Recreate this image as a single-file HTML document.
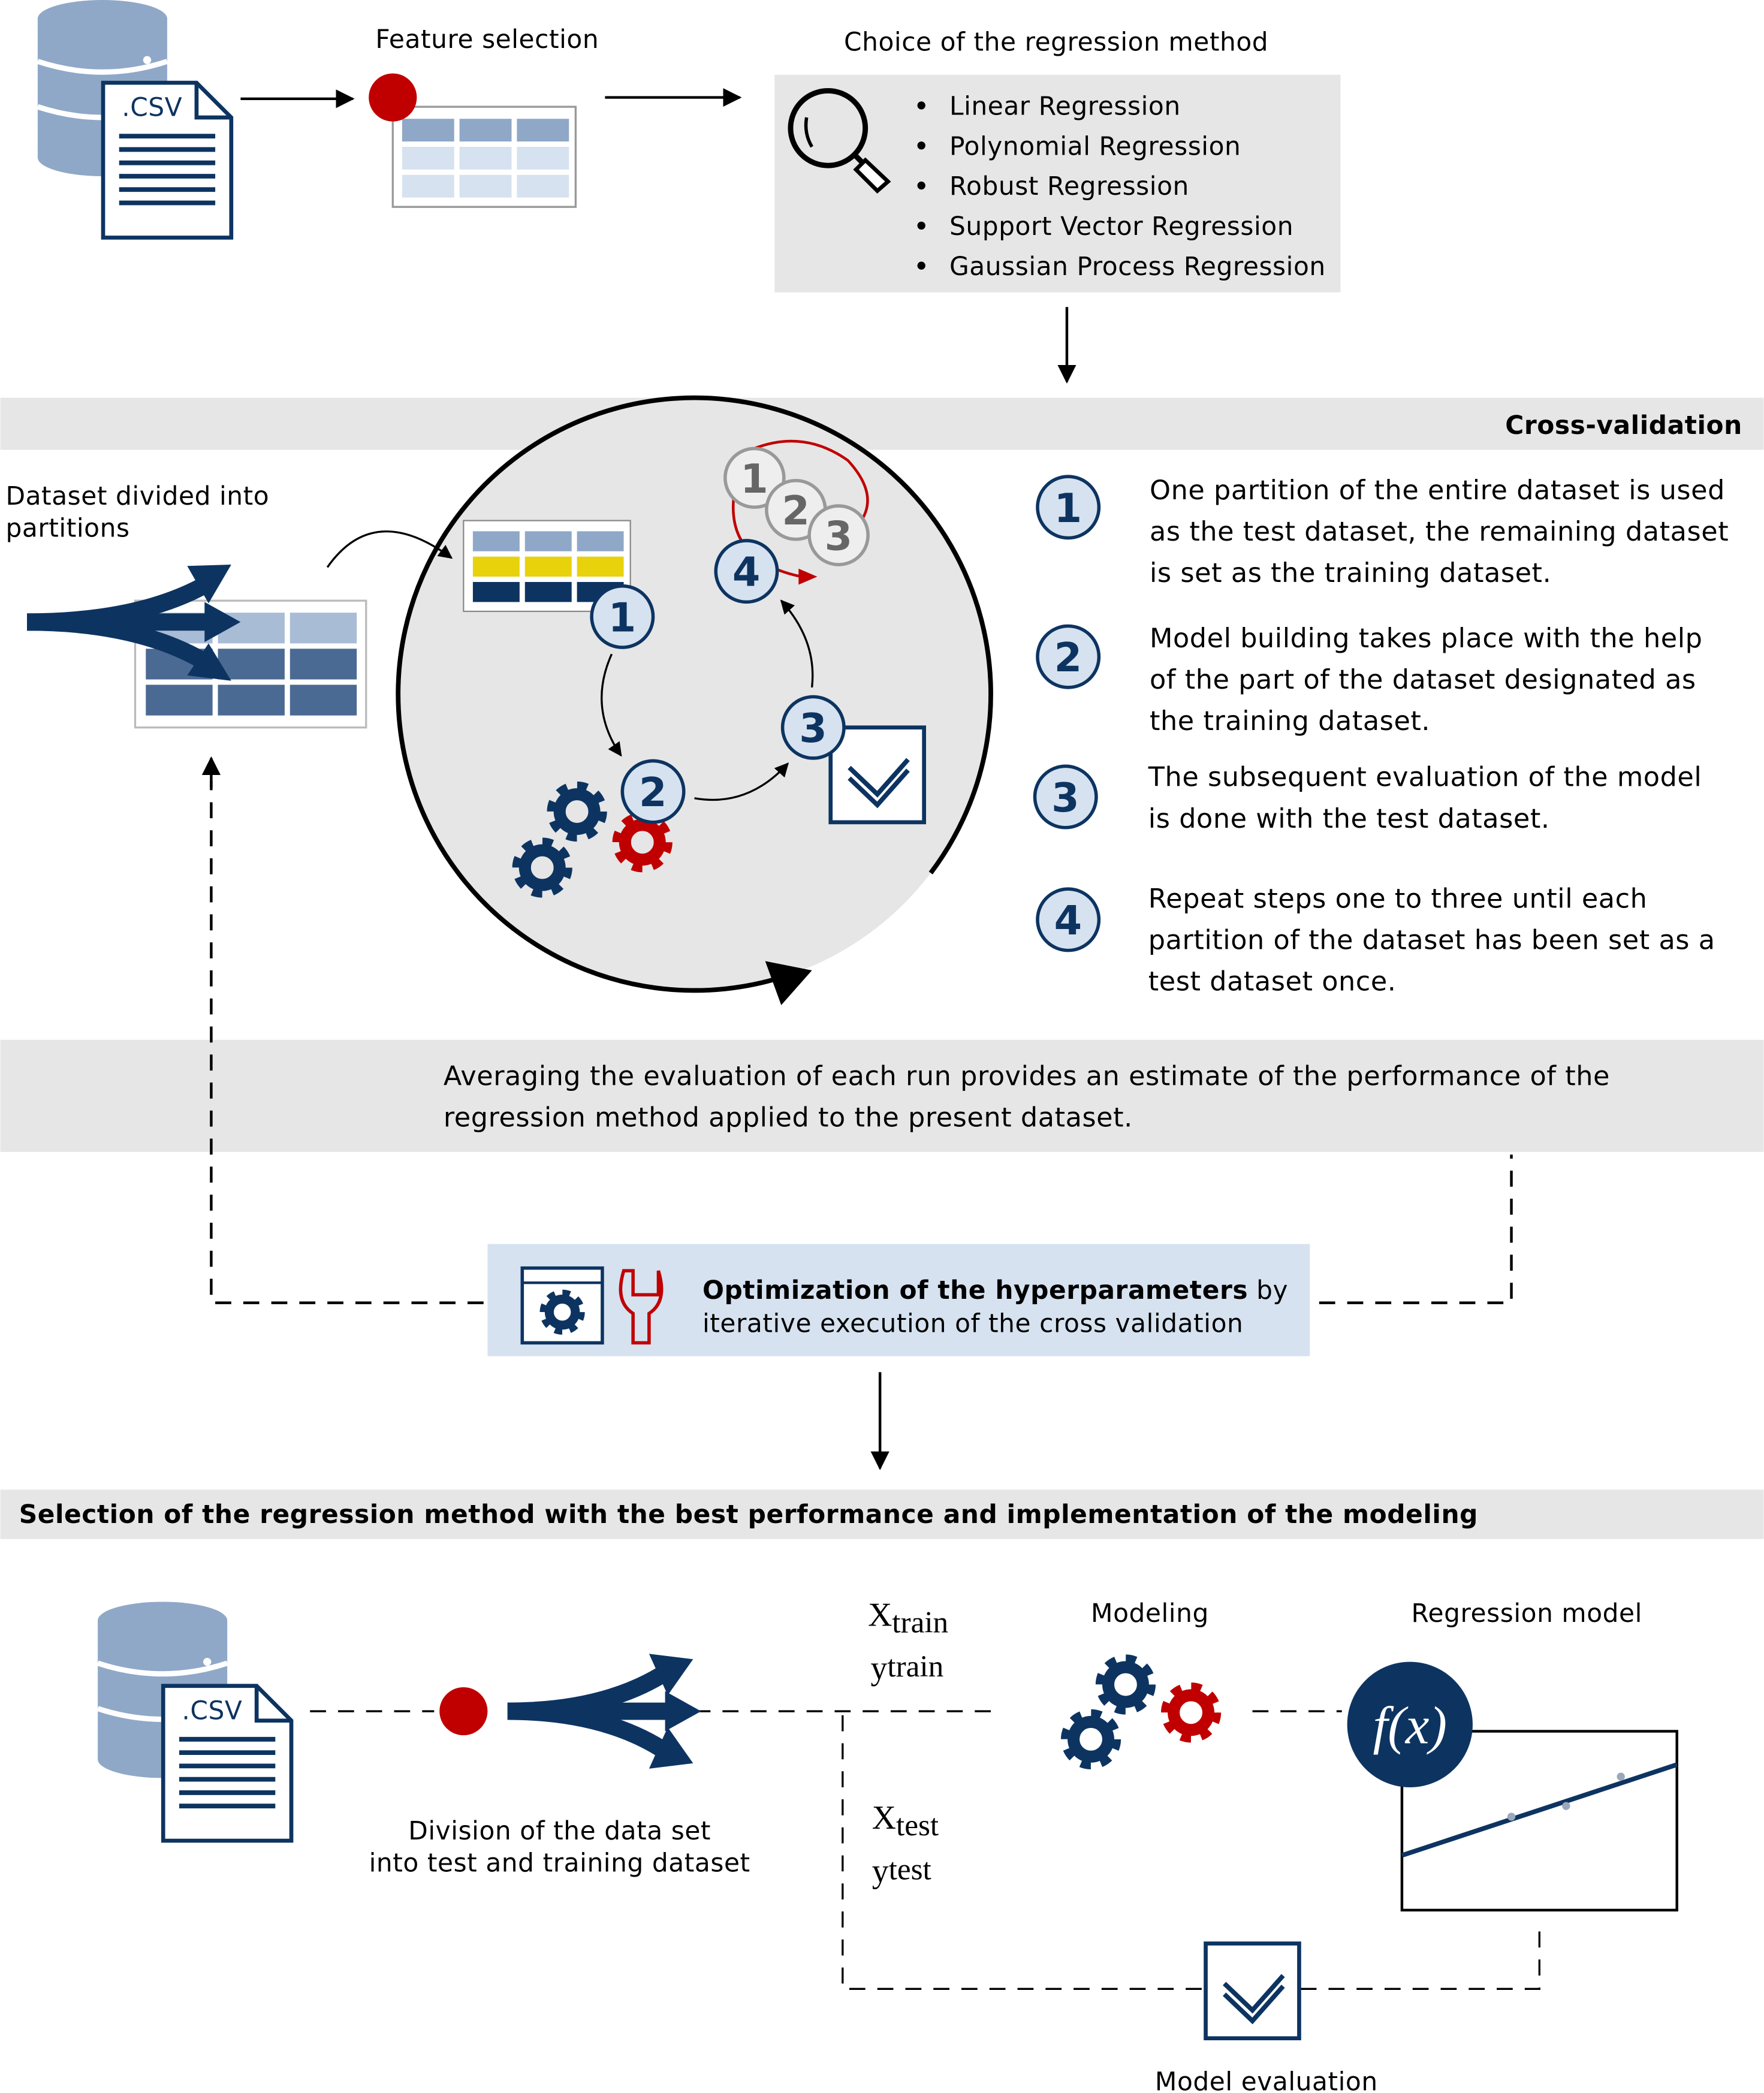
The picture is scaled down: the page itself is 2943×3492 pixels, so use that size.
<!DOCTYPE html>
<html><head><meta charset="utf-8">
<style>
html,body{margin:0;padding:0;background:#fff;}
svg{display:block;}
text{font-family:"DejaVu Sans","Liberation Sans",sans-serif;fill:#000;letter-spacing:0.25px;}
.s{font-family:"Liberation Serif",serif;letter-spacing:0;}
</style></head><body>
<svg width="2943" height="3492" viewBox="0 0 1321 1568" xmlns="http://www.w3.org/2000/svg">
<defs>
<marker id="ah" viewBox="0 0 10 10" refX="9" refY="5" markerWidth="7" markerHeight="7" orient="auto-start-reverse"><path d="M0,0 L10,5 L0,10 z" fill="#000"/></marker>
<g id="gear">
<circle r="13" fill="none" stroke-width="9"/>
<circle r="19" fill="none" stroke-width="7" stroke-dasharray="7.46 7.46"/>
</g>
<g id="db">
<rect x="0" y="14" width="97" height="104" fill="#8fa8c8"/>
<ellipse cx="48.5" cy="14" rx="48.5" ry="14" fill="#8fa8c8"/>
<ellipse cx="48.5" cy="118" rx="48.5" ry="14" fill="#8fa8c8"/>
<path d="M0,46 Q48.5,62 97,46 M0,80 Q48.5,96 97,80" stroke="#fff" stroke-width="4" fill="none"/>
<circle cx="82" cy="45" r="3" fill="#fff"/><circle cx="82" cy="80" r="3" fill="#fff"/>
</g>
<g id="csv">
<path d="M0,0 H70 L96,26 V116 H0 Z" fill="#fff" stroke="#0d3461" stroke-width="3"/>
<path d="M70,0 V26 H96" fill="none" stroke="#0d3461" stroke-width="3"/>
<text x="14" y="25" font-size="19" style="fill:#0d3461">.CSV</text>
<path d="M12,40H84M12,50H84M12,60H84M12,70H84M12,80H84M12,90H84" stroke="#0d3461" stroke-width="3.5"/>
</g>
<g id="chk">
<rect x="0" y="0" width="70" height="71" fill="#fff" stroke="#0d3461" stroke-width="3"/>
<path d="M14,30 L35,50 L58,24 M14,38 L35,58 L58,32" fill="none" stroke="#0d3461" stroke-width="3.5"/>
</g>
</defs>

<use href="#db" x="28" y="0"/>
<use href="#csv" x="77" y="62"/>
<line x1="180" y1="74" x2="264" y2="74" stroke="#000" stroke-width="2" marker-end="url(#ah)"/>
<text x="281" y="36" font-size="19">Feature selection</text>
<rect x="294" y="80" width="137" height="75" fill="#fff" stroke="#999" stroke-width="1.5"/>
<g fill="#8fa8c8"><rect x="301" y="89" width="39" height="17"/><rect x="344" y="89" width="39" height="17"/><rect x="387" y="89" width="39" height="17"/></g>
<g fill="#d6e2f0"><rect x="301" y="110" width="39" height="17"/><rect x="344" y="110" width="39" height="17"/><rect x="387" y="110" width="39" height="17"/><rect x="301" y="131" width="39" height="17"/><rect x="344" y="131" width="39" height="17"/><rect x="387" y="131" width="39" height="17"/></g>
<circle cx="294" cy="73" r="18" fill="#c00000"/>
<line x1="453" y1="73" x2="554" y2="73" stroke="#000" stroke-width="2" marker-end="url(#ah)"/>
<text x="632" y="38" font-size="19">Choice of the regression method</text>
<rect x="580" y="56" width="424" height="163" fill="#e6e6e6"/>
<circle cx="620" cy="96" r="28" fill="none" stroke="#000" stroke-width="4"/>
<path d="M604,88 Q602,100 608,110" fill="none" stroke="#000" stroke-width="2.5"/>
<path d="M640,116 L652,128" stroke="#000" stroke-width="4"/>
<path d="M648,120 L665,136 L657,143 L641,127 Z" fill="#fff" stroke="#000" stroke-width="3"/>
<g font-size="19">
<circle cx="690" cy="79" r="3"/><text x="711" y="86">Linear Regression</text>
<circle cx="690" cy="109" r="3"/><text x="711" y="116">Polynomial Regression</text>
<circle cx="690" cy="139" r="3"/><text x="711" y="146">Robust Regression</text>
<circle cx="690" cy="169" r="3"/><text x="711" y="176">Support Vector Regression</text>
<circle cx="690" cy="199" r="3"/><text x="711" y="206">Gaussian Process Regression</text>
</g>
<line x1="799" y1="230" x2="799" y2="286" stroke="#000" stroke-width="2" marker-end="url(#ah)"/>

<rect x="0" y="298" width="1321" height="39" fill="#e6e6e6"/>
<text x="1305" y="325" font-size="19" font-weight="bold" text-anchor="end">Cross-validation</text>
<circle cx="520" cy="520" r="222" fill="#e6e6e6"/>
<path d="M697,654 A222,222 0 1 0 589,731" fill="none" stroke="#000" stroke-width="3.5"/>
<path d="M608,727 L573,720 L585,753 Z" fill="#000"/>

<text x="4" y="378" font-size="19">Dataset divided into</text>
<text x="4" y="402" font-size="19">partitions</text>
<rect x="101" y="450" width="173" height="95" fill="#fff" stroke="#bbb" stroke-width="1.5"/>
<g fill="#a8bcd6"><rect x="109" y="459" width="50" height="23"/><rect x="163" y="459" width="50" height="23"/><rect x="217" y="459" width="50" height="23"/></g>
<g fill="#4a6a94"><rect x="109" y="486" width="50" height="23"/><rect x="163" y="486" width="50" height="23"/><rect x="217" y="486" width="50" height="23"/><rect x="109" y="513" width="50" height="23"/><rect x="163" y="513" width="50" height="23"/><rect x="217" y="513" width="50" height="23"/></g>
<g fill="none" stroke="#0d3461" stroke-width="13">
<path d="M20,466 Q100,466 150,440"/>
<path d="M20,466 L160,466"/>
<path d="M20,466 Q100,466 150,494"/>
</g>
<g fill="#0d3461">
<path d="M140,424 L173,423 L156,452 Z"/>
<path d="M153,451 L180,466 L153,481 Z"/>
<path d="M140,506 L173,510 L156,482 Z"/>
</g>
<path d="M245,425 Q280,375 338,418" fill="none" stroke="#000" stroke-width="1.5" marker-end="url(#ah)"/>

<rect x="347" y="390" width="125" height="68" fill="#fff" stroke="#888" stroke-width="1"/>
<g fill="#8fa8c8"><rect x="354" y="398" width="35" height="15"/><rect x="393" y="398" width="35" height="15"/><rect x="432" y="398" width="35" height="15"/></g>
<g fill="#e8d20c"><rect x="354" y="417" width="35" height="15"/><rect x="393" y="417" width="35" height="15"/><rect x="432" y="417" width="35" height="15"/></g>
<g fill="#0d3461"><rect x="354" y="436" width="35" height="15"/><rect x="393" y="436" width="35" height="15"/><rect x="432" y="436" width="35" height="15"/></g>

<path d="M560,338 Q600,320 635,345 Q658,370 645,390 M550,368 Q542,420 600,432" fill="none" stroke="#c00000" stroke-width="2"/>
<path d="M598,426 L612,432 L598,438 Z" fill="#c00000"/>
<g font-size="30" font-weight="bold" text-anchor="middle">
<circle cx="565" cy="358" r="22" fill="#eee" stroke="#999" stroke-width="2.5"/><text x="565" y="369" style="fill:#666">1</text>
<circle cx="596" cy="382" r="22" fill="#eee" stroke="#999" stroke-width="2.5"/><text x="596" y="393" style="fill:#666">2</text>
<circle cx="628" cy="401" r="22" fill="#eee" stroke="#999" stroke-width="2.5"/><text x="628" y="412" style="fill:#666">3</text>
</g>
<path d="M458,490 Q440,530 465,566" fill="none" stroke="#000" stroke-width="1.5" marker-end="url(#ah)"/>
<path d="M520,598 Q560,605 590,572" fill="none" stroke="#000" stroke-width="1.5" marker-end="url(#ah)"/>
<path d="M608,515 Q612,480 585,450" fill="none" stroke="#000" stroke-width="1.5" marker-end="url(#ah)"/>
<use href="#gear" x="432" y="608" stroke="#0d3461"/>
<use href="#gear" x="406" y="650" stroke="#0d3461"/>
<use href="#gear" x="481" y="631" stroke="#c00000"/>
<use href="#chk" x="622" y="545"/>
<g font-size="30" font-weight="bold" text-anchor="middle">
<circle cx="466" cy="462" r="23" fill="#d6e2f0" stroke="#0d3461" stroke-width="2.5"/><text x="466" y="473" style="fill:#0d3461">1</text>
<circle cx="489" cy="593" r="23" fill="#d6e2f0" stroke="#0d3461" stroke-width="2.5"/><text x="489" y="604" style="fill:#0d3461">2</text>
<circle cx="609" cy="545" r="23" fill="#d6e2f0" stroke="#0d3461" stroke-width="2.5"/><text x="609" y="556" style="fill:#0d3461">3</text>
<circle cx="559" cy="428" r="23" fill="#d6e2f0" stroke="#0d3461" stroke-width="2.5"/><text x="559" y="439" style="fill:#0d3461">4</text>
<circle cx="800" cy="380" r="23" fill="#d6e2f0" stroke="#0d3461" stroke-width="2.5"/><text x="800" y="391" style="fill:#0d3461">1</text>
<circle cx="800" cy="492" r="23" fill="#d6e2f0" stroke="#0d3461" stroke-width="2.5"/><text x="800" y="503" style="fill:#0d3461">2</text>
<circle cx="798" cy="597" r="23" fill="#d6e2f0" stroke="#0d3461" stroke-width="2.5"/><text x="798" y="608" style="fill:#0d3461">3</text>
<circle cx="800" cy="689" r="23" fill="#d6e2f0" stroke="#0d3461" stroke-width="2.5"/><text x="800" y="700" style="fill:#0d3461">4</text>
</g>
<g font-size="20">
<text x="861" y="374">One partition of the entire dataset is used</text>
<text x="861" y="405">as the test dataset, the remaining dataset</text>
<text x="861" y="436">is set as the training dataset.</text>
<text x="861" y="485">Model building takes place with the help</text>
<text x="861" y="516">of the part of the dataset designated as</text>
<text x="861" y="547">the training dataset.</text>
<text x="860" y="589">The subsequent evaluation of the model</text>
<text x="860" y="620">is done with the test dataset.</text>
<text x="860" y="680">Repeat steps one to three until each</text>
<text x="860" y="711">partition of the dataset has been set as a</text>
<text x="860" y="742">test dataset once.</text>
</g>

<rect x="0" y="779" width="1321" height="84" fill="#e6e6e6"/>
<text x="332" y="813" font-size="20">Averaging the evaluation of each run provides an estimate of the performance of the</text>
<text x="332" y="844" font-size="20">regression method applied to the present dataset.</text>

<g fill="none" stroke="#000" stroke-width="2" stroke-dasharray="12 9">
<path d="M362,976 H158 V585"/>
<path d="M988,976 H1132 V865"/>
</g>
<line x1="158" y1="590" x2="158" y2="568" stroke="#000" stroke-width="2" marker-end="url(#ah)"/>
<rect x="365" y="932" width="616" height="84" fill="#d6e2f0"/>
<rect x="391" y="950" width="60" height="56" fill="#fff" stroke="#0d3461" stroke-width="2.5"/>
<line x1="391" y1="961" x2="451" y2="961" stroke="#0d3461" stroke-width="2"/>
<use href="#gear" x="421" y="983" stroke="#0d3461" transform="translate(421 983) scale(0.75) translate(-421 -983)"/>
<path d="M467,952 Q460,975 474,984 V1006 H486 V984 Q500,975 493,952 V970 H480 H474 V952 Z" fill="none" stroke="#c00000" stroke-width="2.5"/>
<text x="526" y="973" font-size="19"><tspan font-weight="bold">Optimization of the hyperparameters</tspan> by</text>
<text x="526" y="998" font-size="19">iterative execution of the cross validation</text>
<line x1="659" y1="1028" x2="659" y2="1100" stroke="#000" stroke-width="2" marker-end="url(#ah)"/>

<rect x="0" y="1116" width="1321" height="37" fill="#e6e6e6"/>
<text x="14" y="1141" font-size="19" font-weight="bold">Selection of the regression method with the best performance and implementation of the modeling</text>

<use href="#db" x="73" y="1200"/>
<use href="#csv" x="122" y="1263"/>
<g fill="none" stroke="#000" stroke-width="1.5" stroke-dasharray="12 9">
<path d="M232,1282 H325"/>
<path d="M520,1282 H745"/>
<path d="M631,1285 V1490 H903"/>
<path d="M974,1490 H1153 V1438"/>
<path d="M938,1282 H1005"/>
</g>
<circle cx="347" cy="1282" r="18" fill="#c00000"/>
<g fill="none" stroke="#0d3461" stroke-width="13">
<path d="M380,1282 Q450,1282 495,1255"/>
<path d="M380,1282 L505,1282"/>
<path d="M380,1282 Q450,1282 495,1310"/>
</g>
<g fill="#0d3461">
<path d="M486,1239 L519,1243 L500,1270 Z"/>
<path d="M498,1267 L525,1282 L498,1297 Z"/>
<path d="M486,1325 L519,1321 L500,1294 Z"/>
</g>
<text x="419" y="1378" font-size="19" text-anchor="middle">Division of the data set</text>
<text x="419" y="1402" font-size="19" text-anchor="middle">into test and training dataset</text>
<text x="650" y="1218" class="s" font-size="25">X<tspan font-size="23" dy="5">train</tspan></text>
<text x="652" y="1258" class="s" font-size="25">y<tspan font-size="23" dy="-2">train</tspan></text>
<text x="653" y="1370" class="s" font-size="25">X<tspan font-size="23" dy="5">test</tspan></text>
<text x="653" y="1410" class="s" font-size="25">y<tspan font-size="23" dy="-2">test</tspan></text>
<text x="817" y="1215" font-size="19">Modeling</text>
<use href="#gear" x="843" y="1262" stroke="#0d3461"/>
<use href="#gear" x="817" y="1303" stroke="#0d3461"/>
<use href="#gear" x="892" y="1283" stroke="#c00000"/>
<text x="1057" y="1215" font-size="19">Regression model</text>
<rect x="1050" y="1297" width="206" height="134" fill="#fff" stroke="#000" stroke-width="2"/>
<line x1="1050" y1="1390" x2="1256" y2="1322" stroke="#0d3461" stroke-width="3.5"/>
<g fill="#9aa8bb"><circle cx="1132" cy="1361" r="3"/><circle cx="1173" cy="1353" r="3"/><circle cx="1214" cy="1331" r="3"/></g>
<circle cx="1056" cy="1292" r="47" fill="#0d3461"/>
<text x="1056" y="1306" font-size="40" font-style="italic" text-anchor="middle" class="s" style="fill:#fff">f(x)</text>
<use href="#chk" x="903" y="1456"/>
<text x="865" y="1566" font-size="19">Model evaluation</text>
</svg>
</body></html>
